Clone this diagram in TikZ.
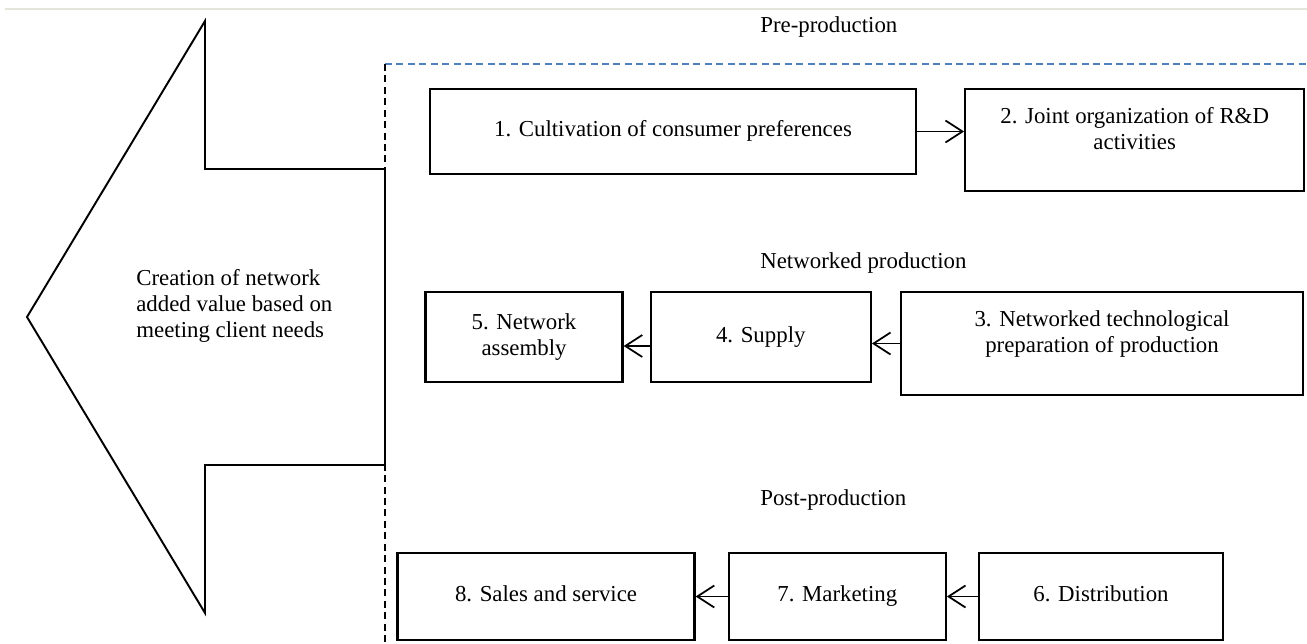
\documentclass[tikz,border=0pt]{standalone}
\usepackage{fontspec}
\setmainfont{Liberation Serif}
\usetikzlibrary{arrows.meta,positioning}
\definecolor{rule}{HTML}{E4E4DA}
\definecolor{dashblue}{HTML}{4F81BD}

\begin{document}
\begin{tikzpicture}[
  x=0.02cm,y=-0.02cm,
  font=\rmfamily\fontsize{13}{14.8}\selectfont,
  box/.style={draw,line width=1.3pt,align=center,inner sep=2pt},
  oneline/.style={text height=1.75ex,text depth=.5ex},
  uptext/.style={text depth=0.48cm},
  arrow/.style={-{Straight Barb[length=3.4mm,width=4.4mm]},line width=1pt},
  phase/.style={anchor=west,inner sep=0pt},
  frame/.style={dash pattern=on 4pt off 2.5pt,line width=0.8pt}
]
  \useasboundingbox (0,0) rectangle (1307,643);
  \draw[rule,line width=1.2pt] (5,9) -- (1307,9);

  % big arrow on the left
  \draw[line width=1.1pt,line join=miter] (27,317) -- (205,21) -- (205,169) -- (385,169)
    -- (385,465) -- (205,465) -- (205,613) -- cycle;
  \node[align=left,anchor=west,inner sep=0pt] (value) at (136,306)
    {Creation of network\\added value based on\\meeting client needs};

  % dashed frame
  \draw[frame,dashblue] (385,64) -- (1307,64);
  \draw[frame] (385,64) -- (385,643);

  % phases
  \node[phase] (pre) at (760,27) {Pre-production};
  \node[phase] (net) at (760,263) {Networked production};
  \node[phase] (post) at (760,500) {Post-production};

  % pre-production
  \node[box,oneline,minimum width=9.72cm,minimum height=1.7cm] (cult) at (673,131.5) {1. Cultivation of consumer preferences};
  \node[box,uptext,minimum width=6.78cm,minimum height=2.04cm,right=0.94cm of cult.north east,anchor=north west] (rnd) {2. Joint organization of R\&D\\activities};

  % networked production
  \node[box,uptext,minimum width=8.04cm,minimum height=2.06cm] (prep) at (1102,343.5) {3. Networked technological\\preparation of production};
  \node[box,oneline,minimum width=4.4cm,minimum height=1.8cm,left=0.56cm of prep.north west,anchor=north east] (supply) {4. Supply};
  \node[box,minimum width=3.94cm,minimum height=1.8cm,left=0.52cm of supply] (assembly) {5. Network\\assembly};

  % post-production
  \node[box,oneline,minimum width=4.88cm,minimum height=1.74cm] (distr) at (1101,596.5) {6. Distribution};
  \node[box,oneline,minimum width=4.34cm,minimum height=1.74cm,left=0.62cm of distr] (mkt) {7. Marketing};
  \node[box,oneline,minimum width=5.94cm,minimum height=1.74cm,left=0.64cm of mkt] (sales) {8. Sales and service};

  \draw[arrow] (cult) -- (rnd.west |- cult);
  \draw[arrow] (prep.west) -- (prep.west -| supply.east);
  \draw[arrow] ([yshift=-0.18cm]supply.west) -- ([yshift=-0.18cm]assembly.east);
  \draw[arrow] (distr) -- (mkt);
  \draw[arrow] (mkt) -- (sales);
\end{tikzpicture}
\end{document}
